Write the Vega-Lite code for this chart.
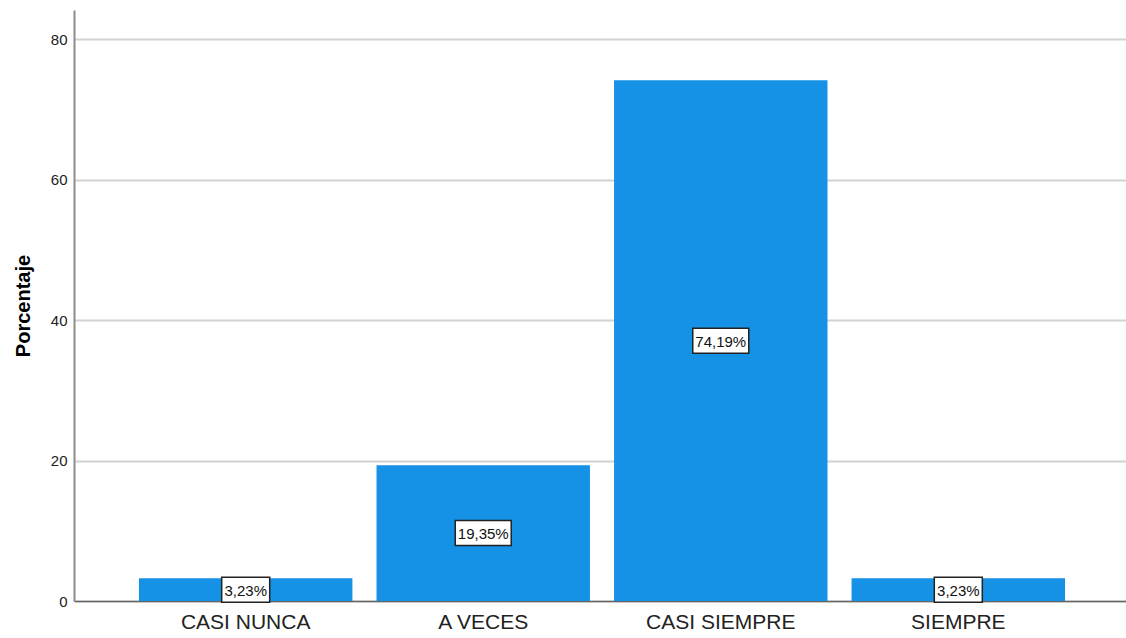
{
  "$schema": "https://vega.github.io/schema/vega-lite/v6.json",
  "autosize": "none",
  "width": 1052,
  "height": 591,
  "padding": {"left": 74, "top": 10, "right": 0, "bottom": 37},
  "background": "white",
  "config": {"view": {"stroke": null}},
  "data": {
    "values": [
      {"category": "CASI NUNCA", "value": 3.23, "label": "3,23%"},
      {"category": "A VECES", "value": 19.35, "label": "19,35%"},
      {"category": "CASI SIEMPRE", "value": 74.19, "label": "74,19%"},
      {"category": "SIEMPRE", "value": 3.23, "label": "3,23%"}
    ]
  },
  "transform": [{"calculate": "datum.value / 2", "as": "mid"}],
  "encoding": {
    "x": {
      "field": "category",
      "type": "nominal",
      "sort": ["CASI NUNCA", "A VECES", "CASI SIEMPRE", "SIEMPRE"],
      "scale": {"paddingInner": 0.1015, "paddingOuter": 0.2736, "range": [0, 1056]},
      "axis": {
        "title": null,
        "labelAngle": 0,
        "ticks": false,
        "domainColor": "#666666",
        "domainWidth": 1.5,
        "labelFont": "Liberation Sans",
        "labelFontSize": 21,
        "labelColor": "#222222",
        "labelPadding": 10
      }
    }
  },
  "layer": [
    {
      "mark": {"type": "bar", "color": "#1591e6"},
      "encoding": {
        "y": {
          "field": "value",
          "type": "quantitative",
          "scale": {"domain": [0, 84.2], "nice": false, "zero": true},
          "axis": {
            "title": "Porcentaje",
            "values": [0, 20, 40, 60, 80],
            "ticks": false,
            "grid": true,
            "gridColor": "#d2d2d2",
            "gridWidth": 2,
            "domainColor": "#8c8c8c",
            "domainWidth": 2,
            "labelFont": "Liberation Sans",
            "labelFontSize": 15,
            "labelColor": "#222222",
            "labelPadding": 7,
            "titleFont": "Liberation Sans",
            "titleFontSize": 20,
            "titleFontWeight": "bold",
            "titleColor": "#000000",
            "titlePadding": 17
          }
        }
      }
    },
    {
      "mark": {"type": "point", "filled": false, "fill": "white", "fillOpacity": 1, "stroke": "#222222", "strokeWidth": 1.5, "opacity": 1, "size": 10000},
      "encoding": {
        "y": {"field": "mid", "type": "quantitative"},
        "shape": {
          "field": "label",
          "type": "nominal",
          "scale": {
            "domain": ["3,23%", "19,35%", "74,19%"],
            "range": [
              "M-0.48,-0.25L0.48,-0.25L0.48,0.25L-0.48,0.25Z",
              "M-0.56,-0.25L0.56,-0.25L0.56,0.25L-0.56,0.25Z",
              "M-0.56,-0.25L0.56,-0.25L0.56,0.25L-0.56,0.25Z"
            ]
          },
          "legend": null
        }
      }
    },
    {
      "mark": {"type": "text", "font": "Liberation Sans", "fontSize": 15, "color": "#111111", "align": "center", "baseline": "middle", "dy": 1},
      "encoding": {
        "y": {"field": "mid", "type": "quantitative"},
        "text": {"field": "label", "type": "nominal"}
      }
    }
  ]
}
